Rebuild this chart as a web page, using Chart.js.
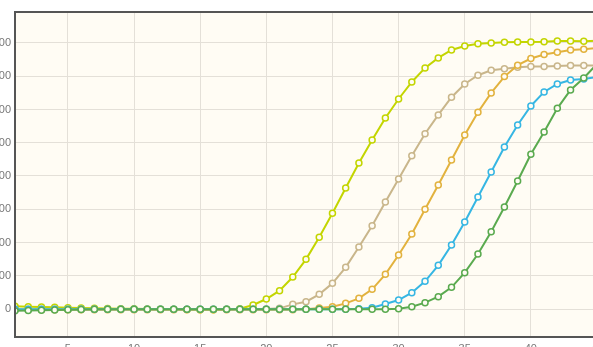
<!DOCTYPE html>
<html>
<head>
<meta charset="utf-8">
<script src="https://cdn.jsdelivr.net/npm/chart.js@4"></script>
<style>
html,body{margin:0;padding:0;background:#fff;overflow:hidden;width:593px;height:347px;}
#wrap{position:absolute;left:-25px;top:0;width:640px;height:360px;}
</style>
</head>
<body>
<div id="wrap"><canvas id="c"></canvas></div>
<script>
const cycles = Array.from({length:45},(_,i)=>i+1);
const yTicks = [0,500,1000,1500,2000,2500,3000,3500,4000];
const xTicks = [5,10,15,20,25,30,35,40,45];

const limeVals = [40,35,30,25,20,15,12,8,5,2,0,-3,-5,-8,-10,-10,-5,5,60,150,275,481,747,1078,1439,1820,2196,2541,2873,3158,3414,3625,3775,3895,3955,3990,4000,4010,4015,4015,4020,4030,4030,4025,4035];
const tanVals = [-5,-5,-5,-5,-5,-5,-5,-5,-5,-5,-5,-5,-5,-5,-5,-5,-5,-5,-5,0,10,70,110,221,386,627,932,1253,1609,1955,2306,2636,2918,3184,3384,3515,3590,3614,3635,3645,3645,3655,3660,3660,3660];
const goldVals = [-10,-10,-10,-10,-10,-10,-10,-10,-10,-10,-10,-10,-10,-10,-10,-10,-10,-10,-10,-10,-10,-10,-5,15,35,85,160,296,522,812,1128,1500,1865,2241,2617,2958,3249,3495,3666,3766,3826,3862,3896,3906,3925];
const cyanVals = [-5,-5,-5,-5,-5,-5,-5,-5,-5,-5,-5,-5,-5,-5,-5,-5,-5,-5,-5,-5,-5,-5,-5,-5,-5,-5,5,20,75,135,246,417,657,963,1309,1685,2060,2436,2767,3053,3264,3384,3444,3459,3489];
const greenVals = [-25,-22,-18,-14,-10,-6,-4,-2,-2,-2,-2,-2,-2,-2,-3,-3,-3,-3,-3,-3,-3,-3,-3,-3,-4,-3,-3,-3,-2,5,35,95,186,326,546,827,1163,1534,1925,2326,2662,3017,3294,3474,3685];

const BG = '#fffcf4';
function ds(label, vals, color, order){
  return {label, data: cycles.map((c,i)=>({x:c,y:vals[i]})), borderColor: color,
    backgroundColor: color, pointBackgroundColor: BG, pointBorderColor: color,
    pointRadius: 3, pointBorderWidth: 1.5, borderWidth: 2, tension: 0, order};
}

const areaPlugin = {
  id:'area',
  beforeDraw(chart){
    const {ctx, chartArea:a} = chart;
    ctx.save(); ctx.fillStyle = BG; ctx.fillRect(a.left,a.top,a.right-a.left,a.bottom-a.top); ctx.restore();
  },
  afterDraw(chart){
    const {ctx, chartArea:a} = chart;
    ctx.save(); ctx.strokeStyle='#555'; ctx.lineWidth=2;
    ctx.beginPath(); ctx.moveTo(a.right+5,a.top); ctx.lineTo(a.left,a.top); ctx.lineTo(a.left,a.bottom); ctx.lineTo(a.right+5,a.bottom); ctx.stroke();
    ctx.restore();
  }
};

new Chart(document.getElementById('c'), {
  type:'line',
  data:{datasets:[
    ds('A', limeVals, '#c3d500', 4),
    ds('B', tanVals, '#c9b68b', 3),
    ds('C', goldVals, '#e2b23e', 2),
    ds('D', cyanVals, '#36b6e3', 1),
    ds('E', greenVals, '#5aaa4f', 0)
  ]},
  options:{
    responsive:true, maintainAspectRatio:false, animation:false,
    layout:{padding:{top:12,right:18,left:0,bottom:0}},
    plugins:{legend:{display:false}, tooltip:{enabled:false}},
    scales:{
      x:{type:'linear', min:1, max:45,
        afterBuildTicks(s){ s.ticks = xTicks.map(v=>({value:v})); },
        afterFit(s){ s.height = 23; },
        grid:{color:'#e4e0d8', drawTicks:false},
        border:{display:false},
        ticks:{padding:5, color:'#777', font:{family:'Liberation Sans, Arial', size:11}, maxRotation:0}
      },
      y:{type:'linear', min:-421, max:4466,
        afterBuildTicks(s){ s.ticks = yTicks.map(v=>({value:v})); },
        afterFit(s){ s.width = 40; },
        grid:{color:'#e4e0d8', drawTicks:false},
        border:{display:false},
        ticks:{padding:4, color:'#777', font:{family:'Liberation Sans, Arial', size:11}}
      }
    }
  },
  plugins:[areaPlugin]
});
</script>
</body>
</html>
